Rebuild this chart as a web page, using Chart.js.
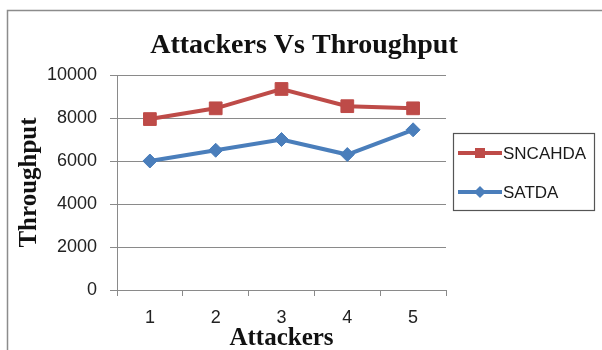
<!DOCTYPE html>
<html>
<head>
<meta charset="utf-8">
<script src="https://cdn.jsdelivr.net/npm/chart.js@4/dist/chart.umd.min.js"></script>
<style>
  html, body { margin: 0; padding: 0; background: #ffffff; }
  #wrap { width: 602px; height: 350px; }
</style>
</head>
<body>
<div id="wrap"><canvas id="chart" width="602" height="350"></canvas></div>
<script>
// Number of attackers on the x axis
const attackers = ['1', '2', '3', '4', '5'];
// Throughput per scheme
const sncahda = [7950, 8450, 9350, 8550, 8450];
const satda = [6000, 6500, 7000, 6300, 7450];
// Value axis ticks
const yTicks = [0, 2000, 4000, 6000, 8000, 10000];
const chartTitle = 'Attackers Vs Throughput';

const RED = '#BE4B48';
const BLUE = '#4A7EBB';
const GRID = '#8a8a8a';
const SERIF = '"Liberation Serif", "Times New Roman", serif';
const SANS = '"Liberation Sans", Arial, sans-serif';

// Outer frame of the chart
const framePlugin = {
  id: 'frame',
  beforeDraw(chart) {
    const ctx = chart.ctx;
    ctx.save();
    ctx.fillStyle = '#ffffff';
    ctx.fillRect(0, 0, chart.width, chart.height);
    ctx.strokeStyle = '#8c8c8c';
    ctx.lineWidth = 1.5;
    ctx.strokeRect(7.5, 10.5, chart.width + 10, chart.height + 10);
    ctx.restore();
  }
};

// Chart heading, centred over the whole figure rather than the plot
const headingPlugin = {
  id: 'heading',
  afterDraw(chart) {
    const ctx = chart.ctx;
    ctx.save();
    ctx.fillStyle = '#111111';
    ctx.font = 'bold 28px ' + SERIF;
    ctx.textAlign = 'center';
    ctx.textBaseline = 'alphabetic';
    ctx.fillText(chartTitle, 304, 53);
    ctx.restore();
  }
};

// Boxed legend at the right, line-and-marker swatches
const legendBoxPlugin = {
  id: 'legendBox',
  afterDraw(chart) {
    const ctx = chart.ctx;
    const box = { x: 453.5, y: 133.5, w: 141, h: 77 };
    ctx.save();
    ctx.strokeStyle = '#555555';
    ctx.lineWidth = 1.2;
    ctx.strokeRect(box.x, box.y, box.w, box.h);
    const rows = [153, 192];
    chart.data.datasets.forEach((ds, i) => {
      const y = rows[i];
      ctx.strokeStyle = ds.borderColor;
      ctx.lineWidth = 4;
      ctx.beginPath();
      ctx.moveTo(458, y);
      ctx.lineTo(502, y);
      ctx.stroke();
      ctx.fillStyle = ds.borderColor;
      if (ds.pointStyle === 'rect') {
        ctx.fillRect(480 - 5, y - 5, 10, 10);
      } else {
        ctx.beginPath();
        ctx.moveTo(480, y - 6);
        ctx.lineTo(486, y);
        ctx.lineTo(480, y + 6);
        ctx.lineTo(474, y);
        ctx.closePath();
        ctx.fill();
      }
      ctx.fillStyle = '#1a1a1a';
      ctx.font = '17px ' + SANS;
      ctx.textBaseline = 'middle';
      ctx.textAlign = 'left';
      ctx.fillText(ds.label, 503, y + 1);
    });
    ctx.restore();
  }
};

new Chart(document.getElementById('chart'), {
  type: 'line',
  data: {
    labels: attackers,
    datasets: [
      {
        label: 'SNCAHDA',
        data: sncahda,
        borderColor: RED,
        backgroundColor: RED,
        borderWidth: 4,
        pointStyle: 'rect',
        pointRadius: 9,
        pointBorderWidth: 1,
        pointBackgroundColor: RED,
        pointBorderColor: RED,
        tension: 0
      },
      {
        label: 'SATDA',
        data: satda,
        borderColor: BLUE,
        backgroundColor: BLUE,
        borderWidth: 4,
        pointStyle: 'rectRot',
        pointRadius: 7,
        pointBorderWidth: 1,
        pointBackgroundColor: BLUE,
        pointBorderColor: BLUE,
        tension: 0
      }
    ]
  },
  options: {
    responsive: false,
    animation: false,
    devicePixelRatio: 1,
    layout: { padding: { top: 75, left: 8, right: 156, bottom: 0 } },
    plugins: {
      legend: { display: false },
      tooltip: { enabled: false },
      title: { display: false }
    },
    scales: {
      x: {
        type: 'category',
        offset: true,
        grid: {
          offset: true,
          drawOnChartArea: false,
          drawTicks: true,
          tickLength: 6,
          color: GRID
        },
        border: { display: true, color: GRID, width: 1 },
        ticks: {
          color: '#222222',
          padding: 11,
          font: { family: SANS, size: 18 }
        },
        title: {
          display: true,
          text: 'Attackers',
          color: '#111111',
          font: { family: SERIF, size: 25, weight: 'bold', lineHeight: 0.9 },
          padding: { top: 0, bottom: 0 }
        },
        afterFit(scale) { scale.height = 60; }
      },
      y: {
        min: 0,
        max: 10000,
        afterBuildTicks(scale) { scale.ticks = yTicks.map(v => ({ value: v })); },
        grid: {
          color: GRID,
          lineWidth: 1,
          drawTicks: true,
          tickLength: 7
        },
        border: { display: true, color: GRID, width: 1 },
        ticks: {
          color: '#222222',
          padding: 13,
          font: { family: SANS, size: 18 },
          callback: (v) => String(v)
        },
        title: {
          display: true,
          text: 'Throughput',
          color: '#111111',
          font: { family: SERIF, size: 25, weight: 'bold' },
          padding: { top: 7, bottom: 0 }
        },
        afterFit(scale) { scale.width = 109; }
      }
    }
  },
  plugins: [framePlugin, headingPlugin, legendBoxPlugin]
});
</script>
</body>
</html>
